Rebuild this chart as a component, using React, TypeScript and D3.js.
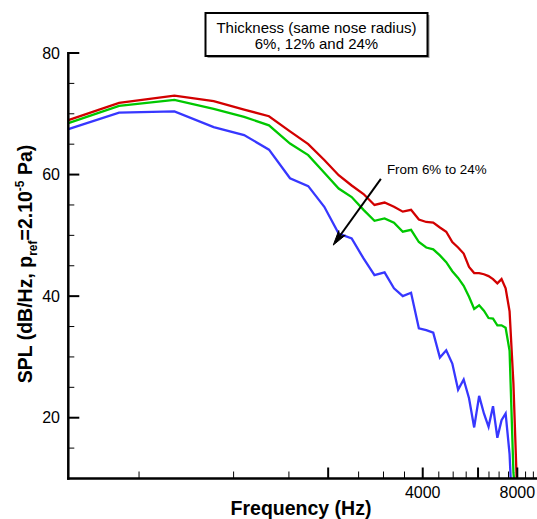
import React from "react";
import * as d3 from "d3";

// ---- Data ----
const FREQUENCIES = [
  216, 432, 648, 864, 1080, 1296, 1512, 1728, 1944, 2160, 2376, 2592, 2808,
  3024, 3240, 3456, 3672, 3888, 4104, 4320, 4536, 4752, 4968, 5184, 5400,
  5616, 5832, 6048, 6264, 6480, 6696, 6912, 7128, 7344, 7560, 7776, 7992,
];
const SPL_6 = [
  66.5, 71.8, 73.0, 72.1, 70.7, 69.6, 67.1, 65.0, 62.4, 59.9, 58.2, 56.8, 55.0,
  55.4, 54.7, 53.9, 54.2, 52.6, 52.2, 52.1, 51.3, 50.6, 48.9, 48.0, 47.0, 44.8,
  43.8, 43.8, 43.6, 43.3, 42.8, 42.1, 42.8, 41.3, 37.5, 25.6, 7.5,
];
const SPL_12 = [
  66.0, 71.3, 72.3, 70.8, 69.5, 68.1, 65.1, 63.2, 60.3, 57.7, 56.3, 54.2, 52.4,
  52.8, 52.1, 50.6, 50.9, 48.9, 48.0, 47.7, 46.7, 45.6, 44.1, 43.0, 41.7, 39.9,
  37.9, 38.5, 37.6, 36.4, 36.3, 35.2, 35.2, 34.8, 31.0, 11.0, 4.0,
];
const SPL_24 = [
  65.1, 70.2, 70.4, 67.8, 66.5, 64.1, 59.4, 58.1, 54.7, 50.3, 49.5, 46.2, 43.45,
  43.9, 41.3, 40.0, 40.55, 34.7, 34.4, 34.0, 29.9, 31.1, 28.9, 24.6, 26.3, 23.2,
  18.4, 23.6, 20.7, 18.5, 21.9, 16.7, 19.6, 20.7, 14.0, 0.0,
];
const SERIES_NAMES = ["6%", "12%", "24%"];
const SERIES_VALUES = [SPL_6, SPL_12, SPL_24];
const SERIES_COLORS = ["#d20000", "#00c800", "#3737ff"];

const Y_MAJOR = [20, 40, 60, 80];
const Y_MINOR = [15, 25, 30, 35, 45, 50, 55, 65, 70, 75];
const X_MAJOR = [2000, 4000, 6000, 8000];
const X_LABELED = [4000, 8000];
const X_MINOR = [500, 1000, 1500, 2500, 3000, 3500, 4500, 5000, 5500, 6500, 7000, 7500, 8500, 9000];

const LEGEND_LINES = ["Thickness (same nose radius)", "6%, 12% and 24%"];
const ANNOTATION_TEXT = "From 6% to 24%";
const ANNOTATION_TEXT_POS = [3077, 60.1];
const ARROW_FROM = [2943, 59.3];
const ARROW_TO = [2076, 48.4];

// ---- Layout ----
const W = 537;
const H = 519;
const LEFT = 68.3;
const RIGHT = 537;
const TOP = 53;
const BOTTOM = 478.5;
const FONT = "'Liberation Sans', Arial, Helvetica, sans-serif";

export default function App() {
  const x = d3.scaleLog().domain([297.7, 9243]).range([LEFT, RIGHT]);
  const y = d3.scaleLinear().domain([10, 80]).range([BOTTOM, TOP]);

  const line = d3
    .line<[number, number]>()
    .x((d) => x(d[0]))
    .y((d) => y(d[1]));

  const [ax1, ay1] = [x(ARROW_FROM[0]), y(ARROW_FROM[1])];
  const [ax2, ay2] = [x(ARROW_TO[0]), y(ARROW_TO[1])];
  const len = Math.hypot(ax2 - ax1, ay2 - ay1);
  const ux = (ax2 - ax1) / len;
  const uy = (ay2 - ay1) / len;
  const nx = -uy;
  const ny = ux;
  const hl = 15;
  const hw = 4;
  const head = `M${ax2},${ay2} L${ax2 - hl * ux + hw * nx},${ay2 - hl * uy + hw * ny} L${ax2 - hl * 0.7 * ux},${ay2 - hl * 0.7 * uy} L${ax2 - hl * ux - hw * nx},${ay2 - hl * uy - hw * ny} Z`;

  return (
    <svg
      width={W}
      height={H}
      style={{ position: "absolute", left: 0, top: 0, background: "#fff" }}
      fontFamily={FONT}
    >
      <defs>
        <clipPath id="plotClip">
          <rect x={LEFT} y={0} width={RIGHT - LEFT} height={BOTTOM} />
        </clipPath>
      </defs>
      <rect x={0} y={0} width={W} height={H} fill="#fff" />

      {/* Legend box */}
      <rect x={207.5} y={15} width={222} height={43} fill="#9a9a9a" />
      <rect x={205.5} y={13} width={222} height={43} fill="#fff" stroke="#000" strokeWidth={2} />
      {LEGEND_LINES.map((t, i) => (
        <text key={t} x={316.5} y={33 + i * 15.5} textAnchor="middle" fontSize={15} fill="#000">
          {t}
        </text>
      ))}

      {/* Curves */}
      <g clipPath="url(#plotClip)">
        {SERIES_VALUES.map((vals, si) => (
          <path
            key={SERIES_NAMES[si]}
            d={line(vals.map((v, i) => [FREQUENCIES[i], v] as [number, number])) || ""}
            fill="none"
            stroke={SERIES_COLORS[si]}
            strokeWidth={2.3}
            strokeLinejoin="miter"
          />
        ))}
      </g>

      {/* Annotation */}
      <text
        x={x(ANNOTATION_TEXT_POS[0])}
        y={y(ANNOTATION_TEXT_POS[1])}
        fontSize={13.4}
        fill="#000"
      >
        {ANNOTATION_TEXT}
      </text>
      <line x1={ax1} y1={ay1} x2={ax2 - hl * 0.6 * ux} y2={ay2 - hl * 0.6 * uy} stroke="#000" strokeWidth={2} />
      <path d={head} fill="#000" stroke="#000" strokeWidth={1} strokeLinejoin="miter" />

      {/* Y axis */}
      <line x1={LEFT} y1={TOP - 1} x2={LEFT} y2={BOTTOM + 1.2} stroke="#000" strokeWidth={2.5} />
      {Y_MAJOR.map((v) => (
        <g key={"ym" + v}>
          <line x1={LEFT} x2={LEFT + 11} y1={y(v)} y2={y(v)} stroke="#000" strokeWidth={2} />
          <text x={60} y={y(v)} dy="0.36em" textAnchor="end" fontSize={16} fill="#000">
            {v}
          </text>
        </g>
      ))}
      {Y_MINOR.map((v) => (
        <line key={"yn" + v} x1={LEFT} x2={LEFT + 6} y1={y(v)} y2={y(v)} stroke="#000" strokeWidth={1} />
      ))}

      {/* X axis */}
      <line x1={LEFT - 1.2} y1={BOTTOM} x2={RIGHT} y2={BOTTOM} stroke="#000" strokeWidth={2.5} />
      {X_MAJOR.map((f) => (
        <line key={"xm" + f} x1={x(f)} x2={x(f)} y1={BOTTOM} y2={BOTTOM - 11} stroke="#000" strokeWidth={2} />
      ))}
      {X_MINOR.map((f) => (
        <line key={"xn" + f} x1={x(f)} x2={x(f)} y1={BOTTOM} y2={BOTTOM - 7} stroke="#000" strokeWidth={1} />
      ))}
      {X_LABELED.map((f) => (
        <text key={"xl" + f} x={x(f)} y={497.5} textAnchor="middle" fontSize={16} fill="#000">
          {f}
        </text>
      ))}

      {/* Axis titles */}
      <text x={301} y={515} textAnchor="middle" fontSize={19.5} fontWeight="bold" fill="#000">
        Frequency (Hz)
      </text>
      <text
        transform="translate(32,264) rotate(-90)"
        textAnchor="middle"
        fontSize={19.5}
        fontWeight="bold"
        fill="#000"
      >
        SPL (dB/Hz, p
        <tspan dy={5} fontSize={12}>ref</tspan>
        <tspan dy={-5}>=2.10</tspan>
        <tspan dy={-8} fontSize={12}>-5</tspan>
        <tspan dy={8}> Pa)</tspan>
      </text>
    </svg>
  );
}
